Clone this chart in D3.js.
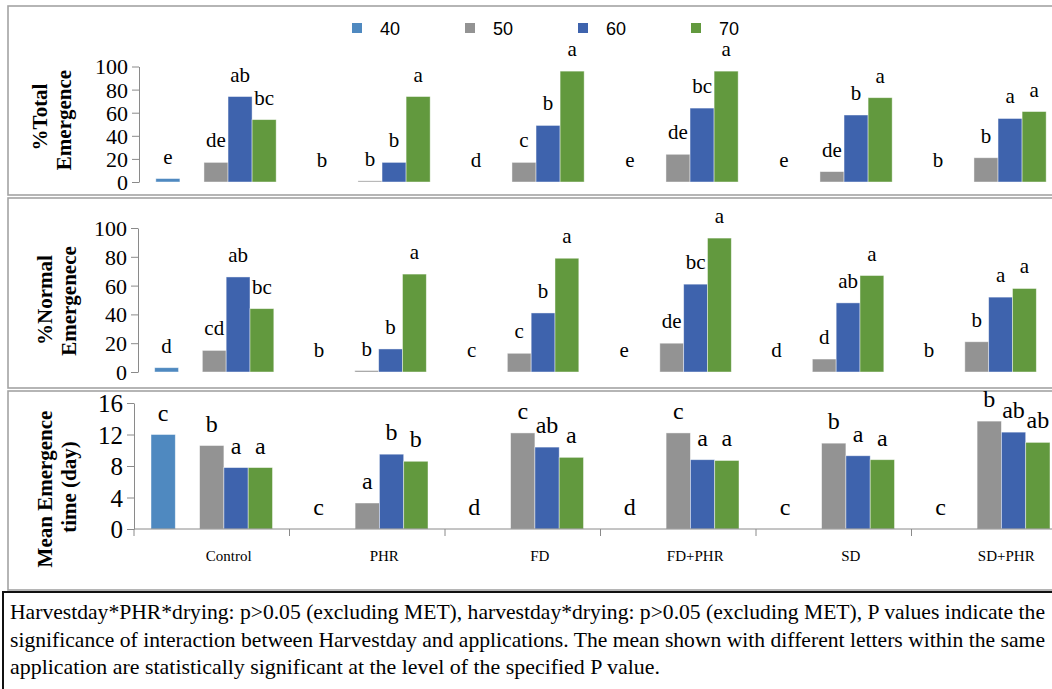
<!DOCTYPE html>
<html><head><meta charset="utf-8">
<script src="https://cdn.jsdelivr.net/npm/d3@7"></script>
<style>body{margin:0;background:#fff}svg{display:block}</style>
</head><body>
<svg id="c" width="1052" height="689"></svg>
<script>
const groups = ["Control","PHR","FD","FD+PHR","SD","SD+PHR"];
const series = ["40","50","60","70"];
const slotKeys = ["40","blank","50","60","70"];
const seriesColors = ["#4F89C0","#939393","#3E63AD","#62993E"];

const total40 = [3,0,0,0,0,0];
const total50 = [17,1,17,24,9,21];
const total60 = [74,17,49,64,58,55];
const total70 = [54,74,96,96,73,61];
const totalLetters = [["e","de","ab","bc"],["b","b","b","a"],["d","c","b","a"],["e","de","bc","a"],["e","de","b","a"],["b","b","a","a"]];
const totalTicks = [0,20,40,60,80,100];

const normal40 = [3,0,0,0,0,0];
const normal50 = [15,1,13,20,9,21];
const normal60 = [66,16,41,61,48,52];
const normal70 = [44,68,79,93,67,58];
const normalLetters = [["d","cd","ab","bc"],["b","b","b","a"],["c","c","b","a"],["e","de","bc","a"],["d","d","ab","a"],["b","b","a","a"]];
const normalTicks = [0,20,40,60,80,100];

const met40 = [12,0,0,0,0,0];
const met50 = [10.6,3.3,12.2,12.2,10.9,13.7];
const met60 = [7.8,9.5,10.4,8.8,9.3,12.3];
const met70 = [7.8,8.6,9.1,8.7,8.8,11.0];
const metLetters = [["c","b","a","a"],["c","a","b","b"],["d","c","ab","a"],["d","c","a","a"],["c","b","a","a"],["c","b","ab","ab"]];
const metTicks = [0,4,8,12,16];

const caption = [
  "Harvestday*PHR*drying: p>0.05 (excluding MET), harvestday*drying: p>0.05 (excluding MET), P values indicate the",
  "significance of interaction between Harvestday and applications. The mean shown with different letters within the same",
  "application are statistically significant at the level of the specified P value."
];
const captionWidths = [1035, 1035, 650];

const svg = d3.select("#c");
const serif = "'Liberation Serif','Times New Roman',serif";
const sans = "'Liberation Sans',Arial,sans-serif";

// panel frames
[[8,6,189],[8,198,190],[8,391,199]].forEach(([x,y,h]) => {
  svg.append("rect").attr("x",x).attr("y",y).attr("width",1070).attr("height",h)
    .attr("fill","none").attr("stroke","#a3a3a3").attr("stroke-width",1.6);
});
svg.append("rect").attr("x",3).attr("y",592).attr("width",1070).attr("height",120)
  .attr("fill","none").attr("stroke","#111").attr("stroke-width",2);

function drawPanel(p) {
  const g = svg.append("g");
  const xg = d3.scaleBand().domain(groups).range([p.x0, p.x0 + 6*p.W]);
  const xs = d3.scaleBand().domain(slotKeys).range([0, p.W]).paddingOuter(0.7);
  const y = d3.scaleLinear().domain([0, p.yMax]).range([p.yBot, p.yTop]);

  const ax = g.append("g").attr("transform", `translate(${p.x0},0)`)
    .call(d3.axisLeft(y).tickValues(p.ticks).tickSize(7).tickSizeOuter(0).tickPadding(4));
  ax.select(".domain").attr("stroke","#8a8a8a");
  ax.selectAll(".tick line").attr("stroke","#8a8a8a");
  ax.selectAll(".tick text").style("font-family",serif).style("font-size",p.tickFont+"px").attr("fill","#000")
    .attr("dy","0.34em");

  groups.forEach((grp, i) => {
    series.forEach((s, j) => {
      const v = p.values[j][i];
      const bx = xg(grp) + xs(s);
      if (v > 0) {
        g.append("rect").attr("x", bx).attr("y", y(v)).attr("width", xs.bandwidth())
          .attr("height", p.yBot - y(v)).attr("fill", seriesColors[j])
          .attr("stroke","#ffffff").attr("stroke-opacity",0.55).attr("stroke-width",0.8);
      }
      g.append("text").attr("x", bx + xs.bandwidth()/2).attr("y", y(v) - p.gap)
        .attr("text-anchor","middle").style("font-family",serif).style("font-size",p.letterFont+"px")
        .attr("fill","#000").text(p.letters[i][j]);
    });
  });

  if (p.xAxis) {
    const axg = g.append("g").attr("stroke","#8a8a8a");
    axg.append("line").attr("x1",p.x0).attr("x2",1060).attr("y1",p.yBot).attr("y2",p.yBot);
    groups.forEach(grp => {
      axg.append("line").attr("x1",xg(grp)).attr("x2",xg(grp)).attr("y1",p.yBot).attr("y2",p.yBot+7);
    });
    groups.forEach(grp => {
      g.append("text").attr("x", xg(grp) + xg.bandwidth()/2 + 17).attr("y", p.yBot + 32)
        .attr("text-anchor","middle").style("font-family",serif).style("font-size","15px")
        .attr("fill","#000").text(grp);
    });
  }

  p.titles.forEach(t => {
    g.append("text").attr("transform", `translate(${t[1]},${t[2]}) rotate(-90)`)
      .attr("text-anchor","middle").style("font-family",serif).style("font-weight","bold")
      .style("font-size","21px").attr("fill","#000").text(t[0]);
  });
}

drawPanel({values:[total40,total50,total60,total70], letters:totalLetters, ticks:totalTicks,
  yMax:100, x0:139, W:154, yTop:66.5, yBot:182, tickFont:22, letterFont:21, gap:15, xAxis:false,
  titles:[["%Total",47,117],["Emergence",71,120]]});
drawPanel({values:[normal40,normal50,normal60,normal70], letters:normalLetters, ticks:normalTicks,
  yMax:100, x0:138, W:152.5, yTop:228, yBot:372, tickFont:22, letterFont:21, gap:15, xAxis:false,
  titles:[["%Normal",52,300],["Emergenece",76,301]]});
drawPanel({values:[met40,met50,met60,met70], letters:metLetters, ticks:metTicks,
  yMax:16, x0:134, W:155.5, yTop:403, yBot:529, tickFont:25, letterFont:24, gap:14, xAxis:true,
  titles:[["Mean Emergence",52,489],["time (day)",76,487]]});

// legend
const lg = svg.append("g");
series.forEach((s, j) => {
  const lx = 352 + j*113;
  lg.append("rect").attr("x",lx).attr("y",23).attr("width",10).attr("height",10).attr("fill",seriesColors[j]);
  lg.append("text").attr("x",lx+28).attr("y",34.5).style("font-family",sans).style("font-size","18px")
    .attr("fill","#000").text(s);
});

// caption
caption.forEach((line, k) => {
  svg.append("text").attr("x",10).attr("y",619 + k*27.5).style("font-family",serif)
    .style("font-size","21px").attr("fill","#000")
    .attr("textLength",captionWidths[k]).attr("lengthAdjust","spacingAndGlyphs").text(line);
});
</script>
</body></html>
